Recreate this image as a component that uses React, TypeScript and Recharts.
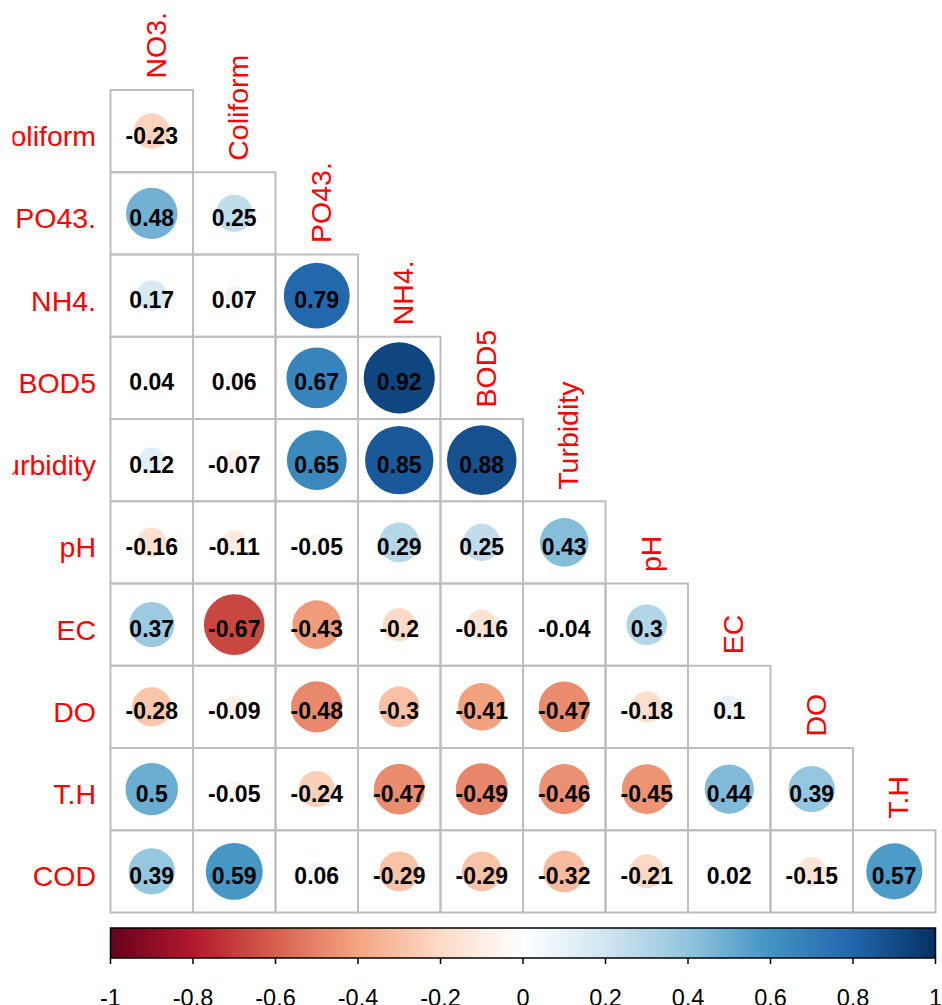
import { ScatterChart, ComposedChart, Scatter, XAxis, YAxis, ZAxis, ReferenceArea } from "recharts";

// variable names, lower triangle: row i holds columns 0..i
const rowNames = ["Coliform", "PO43.", "NH4.", "BOD5", "Turbidity", "pH", "EC", "DO", "T.H", "COD"];
const colNames = ["NO3.", "Coliform", "PO43.", "NH4.", "BOD5", "Turbidity", "pH", "EC", "DO", "T.H"];

const coliform = [-0.23];
const po43 = [0.48, 0.25];
const nh4 = [0.17, 0.07, 0.79];
const bod5 = [0.04, 0.06, 0.67, 0.92];
const turbidity = [0.12, -0.07, 0.65, 0.85, 0.88];
const ph = [-0.16, -0.11, -0.05, 0.29, 0.25, 0.43];
const ec = [0.37, -0.67, -0.43, -0.2, -0.16, -0.04, 0.3];
const dissolvedO2 = [-0.28, -0.09, -0.48, -0.3, -0.41, -0.47, -0.18, 0.1];
const hardness = [0.5, -0.05, -0.24, -0.47, -0.49, -0.46, -0.45, 0.44, 0.39];
const cod = [0.39, 0.59, 0.06, -0.29, -0.29, -0.32, -0.21, 0.02, -0.15, 0.57];

const corrRows = [coliform, po43, nh4, bod5, turbidity, ph, ec, dissolvedO2, hardness, cod];

const legendTicks = [-1, -0.8, -0.6, -0.4, -0.2, 0, 0.2, 0.4, 0.6, 0.8, 1];
const legendEnds = [-1, 1];

// RdBu diverging palette, -1 .. 1
const RDBU = ["#67001F", "#B2182B", "#D6604D", "#F4A582", "#FDDBC7", "#FFFFFF", "#D1E5F0", "#92C5DE", "#4393C3", "#2166AC", "#053061"];

const FONT = '"Liberation Sans", Arial, Helvetica, sans-serif';
const MAX_R = 37.1;
const GRID = "#BEBEBE";
const LABEL_SIZE = 28.5;

function hexToRgb(h: string) {
  return [1, 3, 5].map((i) => parseInt(h.slice(i, i + 2), 16));
}

function corrColor(v: number) {
  const t = ((v + 1) / 2) * (RDBU.length - 1);
  const i = Math.min(RDBU.length - 2, Math.max(0, Math.floor(t)));
  const f = t - i;
  const a = hexToRgb(RDBU[i]);
  const b = hexToRgb(RDBU[i + 1]);
  const c = a.map((x, k) => Math.round(x + (b[k] - x) * f));
  return `rgb(${c[0]},${c[1]},${c[2]})`;
}

const cells = corrRows.flatMap((vals, row) =>
  vals.map((v, col) => ({ x: col + 0.5, y: row + 0.5, z: Math.abs(v), v, row, col }))
);

const colLabels = colNames.map((name, c) => ({ x: c + 0.5, y: c, z: 0, name }));

const barData = legendEnds.map((x, i) => ({ x, y: i }));

const CorrCircle = (props: any) => {
  const { cx, cy, width, payload } = props;
  return (
    <g>
      <circle cx={cx} cy={cy} r={Math.max(0, width / 2)} fill={corrColor(payload.v)} />
      <text x={cx} y={cy + 12.5} textAnchor="middle" fontFamily={FONT} fontSize={23} fontWeight="bold" fill="#000">
        {String(payload.v)}
      </text>
    </g>
  );
};

const ColLabel = (props: any) => {
  const { cx, cy, payload } = props;
  const x = cx + 14;
  const y = cy - 11.5;
  return (
    <text x={x} y={y} transform={`rotate(-90, ${x}, ${y})`} textAnchor="start" fontFamily={FONT} fontSize={LABEL_SIZE} fill="#FF0000">
      {payload.name}
    </text>
  );
};

const RowTick = (props: any) => {
  const { x, y, payload, index } = props;
  const id = `rowClip-${index}`;
  return (
    <g>
      <defs>
        <clipPath id={id}>
          <rect x={12.5} y={y - 40} width={200} height={80} />
        </clipPath>
      </defs>
      <text x={x} y={y + 15} textAnchor="end" fontFamily={FONT} fontSize={LABEL_SIZE} fill="#FF0000" clipPath={`url(#${id})`}>
        {rowNames[Math.floor(payload.value)]}
      </text>
    </g>
  );
};

const LegendTick = (props: any) => {
  const { x, y, payload } = props;
  return (
    <text x={x} y={y + 40} textAnchor="middle" fontFamily={FONT} fontSize={23.5} fill="#000">
      {String(payload.value)}
    </text>
  );
};

const ColorBar = (props: any) => {
  const { x, y, width, height } = props;
  return (
    <g>
      <defs>
        <linearGradient id="rdbuBar" x1="0" y1="0" x2="1" y2="0">
          {RDBU.map((c, i) => (
            <stop key={i} offset={i / (RDBU.length - 1)} stopColor={c} />
          ))}
        </linearGradient>
      </defs>
      <rect x={x} y={y} width={width} height={height} fill="url(#rdbuBar)" stroke="#000" strokeWidth={1.5} />
    </g>
  );
};

export default function App() {
  return (
    <div style={{ position: "absolute", left: 0, top: 0, width: 942, height: 1005, background: "#fff", overflow: "hidden" }}>
      <div style={{ position: "absolute", left: 0, top: 0 }}>
        <ScatterChart width={942} height={925} margin={{ top: 90, right: 6.5, bottom: 12.5, left: 0 }}>
          <XAxis type="number" dataKey="x" domain={[0, 10]} hide />
          <YAxis
            type="number"
            dataKey="y"
            domain={[0, 10]}
            reversed
            width={110.5}
            ticks={rowNames.map((_, i) => i + 0.5)}
            interval={0}
            tickSize={0}
            tickMargin={14.5}
            axisLine={false}
            tickLine={false}
            tick={<RowTick />}
          />
          <ZAxis type="number" dataKey="z" domain={[0, 1]} range={[0, Math.PI * MAX_R * MAX_R]} />
          {cells.map((c) => (
            <ReferenceArea
              key={`${c.row}-${c.col}`}
              x1={c.col}
              x2={c.col + 1}
              y1={c.row}
              y2={c.row + 1}
              fill="none"
              stroke={GRID}
              strokeWidth={2}
              ifOverflow="visible"
            />
          ))}
          <Scatter data={cells} shape={<CorrCircle />} isAnimationActive={false} />
          <Scatter data={colLabels} shape={<ColLabel />} isAnimationActive={false} />
        </ScatterChart>
      </div>
      <div style={{ position: "absolute", left: 0, top: 915 }}>
        <ComposedChart width={942} height={90} data={barData} margin={{ top: 13, right: 6.5, bottom: 0, left: 110.5 }}>
          <XAxis
            type="number"
            dataKey="x"
            domain={[-1, 1]}
            ticks={legendTicks}
            interval={0}
            height={47}
            tickSize={6}
            axisLine={false}
            tickLine={{ stroke: "#000", strokeWidth: 1.5 }}
            tick={<LegendTick />}
            allowDataOverflow
          />
          <YAxis type="number" dataKey="y" domain={[0, 1]} hide allowDataOverflow />
          <ReferenceArea x1={-1} x2={1} y1={0} y2={1} shape={(p: any) => <ColorBar {...p} />} ifOverflow="visible" />
          <Scatter dataKey="y" shape={() => <g />} isAnimationActive={false} />
        </ComposedChart>
      </div>
    </div>
  );
}
